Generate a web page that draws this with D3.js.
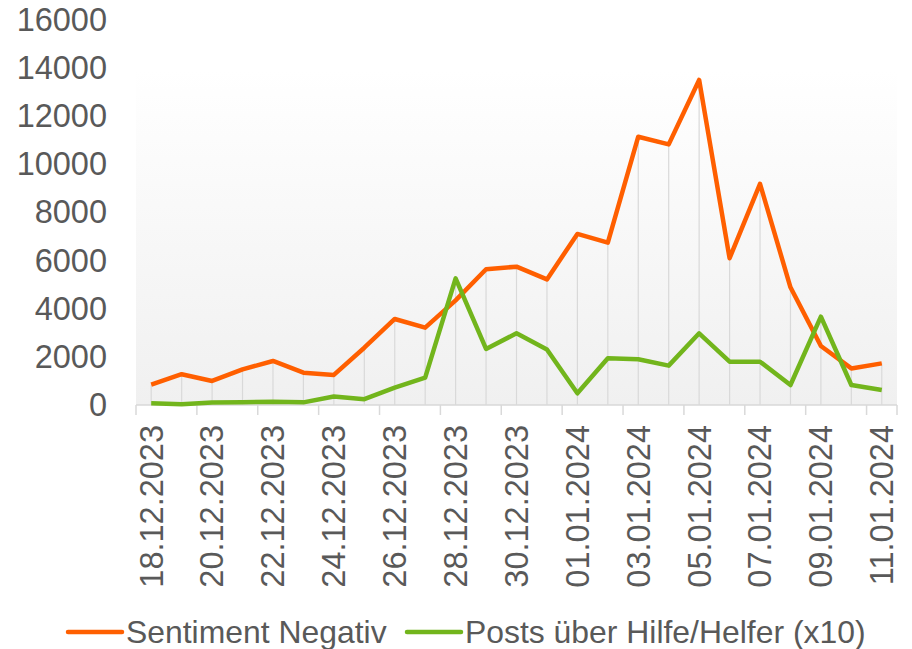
<!DOCTYPE html>
<html lang="de">
<head>
  <meta charset="UTF-8">
  <title>Sentiment</title>
  <script src="https://cdn.jsdelivr.net/npm/d3@7"></script>
  <style>
    body { margin: 0; background: #fff; }
    text { font-family: "Liberation Sans", Arial, sans-serif; fill: #595959; }
  </style>
</head>
<body>
  <svg width="912" height="649"></svg>
  <script>
    var dates = ['18.12.2023', '19.12.2023', '20.12.2023', '21.12.2023', '22.12.2023', '23.12.2023',
      '24.12.2023', '25.12.2023', '26.12.2023', '27.12.2023', '28.12.2023', '29.12.2023', '30.12.2023',
      '31.12.2023', '01.01.2024', '02.01.2024', '03.01.2024', '04.01.2024', '05.01.2024', '06.01.2024',
      '07.01.2024', '08.01.2024', '09.01.2024', '10.01.2024', '11.01.2024']
    var negativ = [850, 1280, 1000, 1480, 1830, 1345, 1250, 2380, 3575, 3215, 4350, 5640, 5750,
      5220, 7110, 6750, 11150, 10830, 13510, 6100, 9190, 4890, 2450, 1520, 1730]
    var hilfe = [70, 30, 100, 110, 140, 110, 350, 240, 720, 1140, 5260, 2330, 2980,
      2310, 485, 1940, 1900, 1635, 2980, 1800, 1800, 830, 3670, 830, 620]
    var yTicks = [0, 2000, 4000, 6000, 8000, 10000, 12000, 14000, 16000]
    var seriesNames = ['Sentiment Negativ', 'Posts über Hilfe/Helfer (x10)']
    var seriesColors = ['#ff5f00', '#72b51c']

    var svg = d3.select('svg')
    var mLeft = 136, mRight = 897, mTop = 20, mBottom = 405
    var fontSize = 32.5

    var x = d3.scaleBand().domain(dates).range([mLeft, mRight]).padding(0)
    var cx = d => x(d) + x.bandwidth() / 2
    var y = d3.scaleLinear().domain([0, 16000]).range([mBottom, mTop])

    // background gradient
    var grad = svg.append('defs').append('linearGradient')
      .attr('id', 'bg').attr('x1', 0).attr('y1', 0).attr('x2', 0).attr('y2', 1)
    grad.append('stop').attr('offset', '0%').attr('stop-color', '#ffffff')
    grad.append('stop').attr('offset', '100%').attr('stop-color', '#f0f0f0')
    svg.append('rect')
      .attr('x', mLeft).attr('y', y(13900))
      .attr('width', mRight - mLeft).attr('height', mBottom - y(13900))
      .attr('fill', 'url(#bg)')

    // drop lines
    svg.append('g').selectAll('line')
      .data(dates)
      .enter().append('line')
      .attr('x1', cx).attr('x2', cx)
      .attr('y1', (d, i) => y(Math.max(negativ[i], hilfe[i])))
      .attr('y2', mBottom)
      .attr('stroke', '#d9d9d9').attr('stroke-width', 1.2)

    // x axis
    svg.append('line')
      .attr('x1', mLeft).attr('x2', mRight).attr('y1', mBottom).attr('y2', mBottom)
      .attr('stroke', '#d9d9d9').attr('stroke-width', 1.5)
    var tickDates = dates.filter((d, i) => i % 2 == 0)
    svg.append('g').selectAll('line')
      .data(tickDates.concat(['end']))
      .enter().append('line')
      .attr('x1', d => d == 'end' ? mRight : x(d))
      .attr('x2', d => d == 'end' ? mRight : x(d))
      .attr('y1', mBottom).attr('y2', mBottom + 10)
      .attr('stroke', '#d9d9d9').attr('stroke-width', 1.5)

    var xAxis = svg.append('g')
      .attr('transform', `translate(0,${mBottom})`)
      .call(d3.axisBottom(x).tickValues(tickDates).tickSize(0))
    xAxis.select('.domain').remove()
    xAxis.selectAll('text')
      .attr('font-size', fontSize)
      .attr('fill', '#595959')
      .attr('transform', 'rotate(-90)')
      .attr('text-anchor', 'end')
      .attr('x', -20).attr('y', 0).attr('dy', '0.35em')

    // y axis
    var yAxis = svg.append('g')
      .attr('transform', `translate(${mLeft - 29},0)`)
      .call(d3.axisLeft(y).tickValues(yTicks).tickSize(0).tickFormat(d3.format('d')))
    yAxis.select('.domain').remove()
    yAxis.selectAll('text')
      .attr('font-size', fontSize)
      .attr('fill', '#595959')
      .attr('x', 0)

    // lines
    var line = d3.line().x((d, i) => cx(dates[i])).y(d => y(d))
    ;[negativ, hilfe].forEach((vals, k) => {
      svg.append('path')
        .datum(vals)
        .attr('d', line)
        .attr('fill', 'none')
        .attr('stroke', seriesColors[k])
        .attr('stroke-width', 4.5)
        .attr('stroke-linejoin', 'round')
    })

    // legend
    var legendX = [68, 407]
    var legend = svg.append('g')
    seriesNames.forEach((name, k) => {
      legend.append('line')
        .attr('x1', legendX[k]).attr('x2', legendX[k] + 54)
        .attr('y1', 632).attr('y2', 632)
        .attr('stroke', seriesColors[k]).attr('stroke-width', 4.5)
        .attr('stroke-linecap', 'round')
      legend.append('text')
        .attr('x', legendX[k] + 58).attr('y', 632).attr('dy', '0.35em')
        .attr('font-size', 31.9)
        .text(name)
    })
  </script>
</body>
</html>
